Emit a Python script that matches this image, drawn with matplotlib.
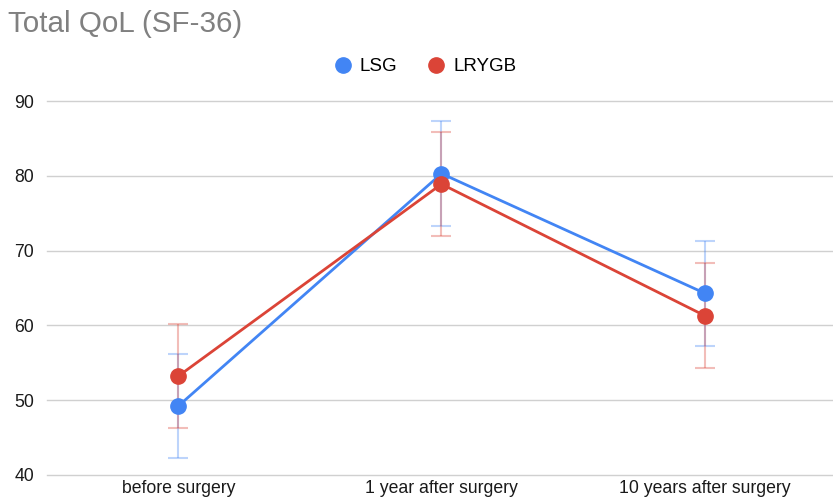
import matplotlib.pyplot as plt

plt.rcParams['font.family'] = ['Liberation Sans', 'DejaVu Sans']

categories = ['before surgery', '1 year after surgery', '10 years after surgery']
lsg = [49.2, 80.3, 64.3]
lrygb = [53.2, 78.9, 61.3]
lsg_err = [7, 7, 7]
lrygb_err = [7, 7, 7]

blue = '#4285F4'
red = '#DB4437'

fig = plt.figure(figsize=(8.33, 5.03), dpi=100)
ax = fig.add_axes([0.056, 0.056, 0.948, 0.743])

x = range(len(categories))

ax.errorbar(x, lsg, yerr=lsg_err, fmt='none', ecolor=blue, alpha=0.35,
            elinewidth=1.5, capsize=7, capthick=1.5, zorder=2)
ax.errorbar(x, lrygb, yerr=lrygb_err, fmt='none', ecolor=red, alpha=0.35,
            elinewidth=1.5, capsize=7, capthick=1.5, zorder=2)
ax.plot(x, lsg, color=blue, lw=2, marker='o', ms=11, label='LSG', zorder=3)
ax.plot(x, lrygb, color=red, lw=2, marker='o', ms=11, label='LRYGB', zorder=3)

ax.set_xlim(-0.5, 2.5)
ax.set_ylim(40, 90)
ax.set_yticks([40, 50, 60, 70, 80, 90])
ax.set_xticks(list(x))
ax.set_xticklabels(categories)
ax.tick_params(axis='both', length=0, labelsize=12.7, colors='#1a1a1a')
ax.tick_params(axis='y', pad=9)
ax.tick_params(axis='x', pad=4)
ax.grid(axis='y', color='#d0d0d0', lw=1)
for g in ax.get_ygridlines():
    g.set_clip_on(False)
ax.set_axisbelow(True)
for s in ax.spines.values():
    s.set_visible(False)

fig.text(0.01, 0.953, 'Total QoL (SF-36)', fontsize=21.3, color='#808080', va='center')

ax.legend(loc='center', bbox_to_anchor=(0.51, 0.867), bbox_transform=fig.transFigure,
          ncol=2, frameon=False, fontsize=13.5, handlelength=1, handletextpad=0.4,
          columnspacing=1.6, markerscale=1.0)
leg = ax.get_legend()
for h in leg.legend_handles:
    h.set_linestyle('none')

fig.savefig('out.png', dpi=100)
